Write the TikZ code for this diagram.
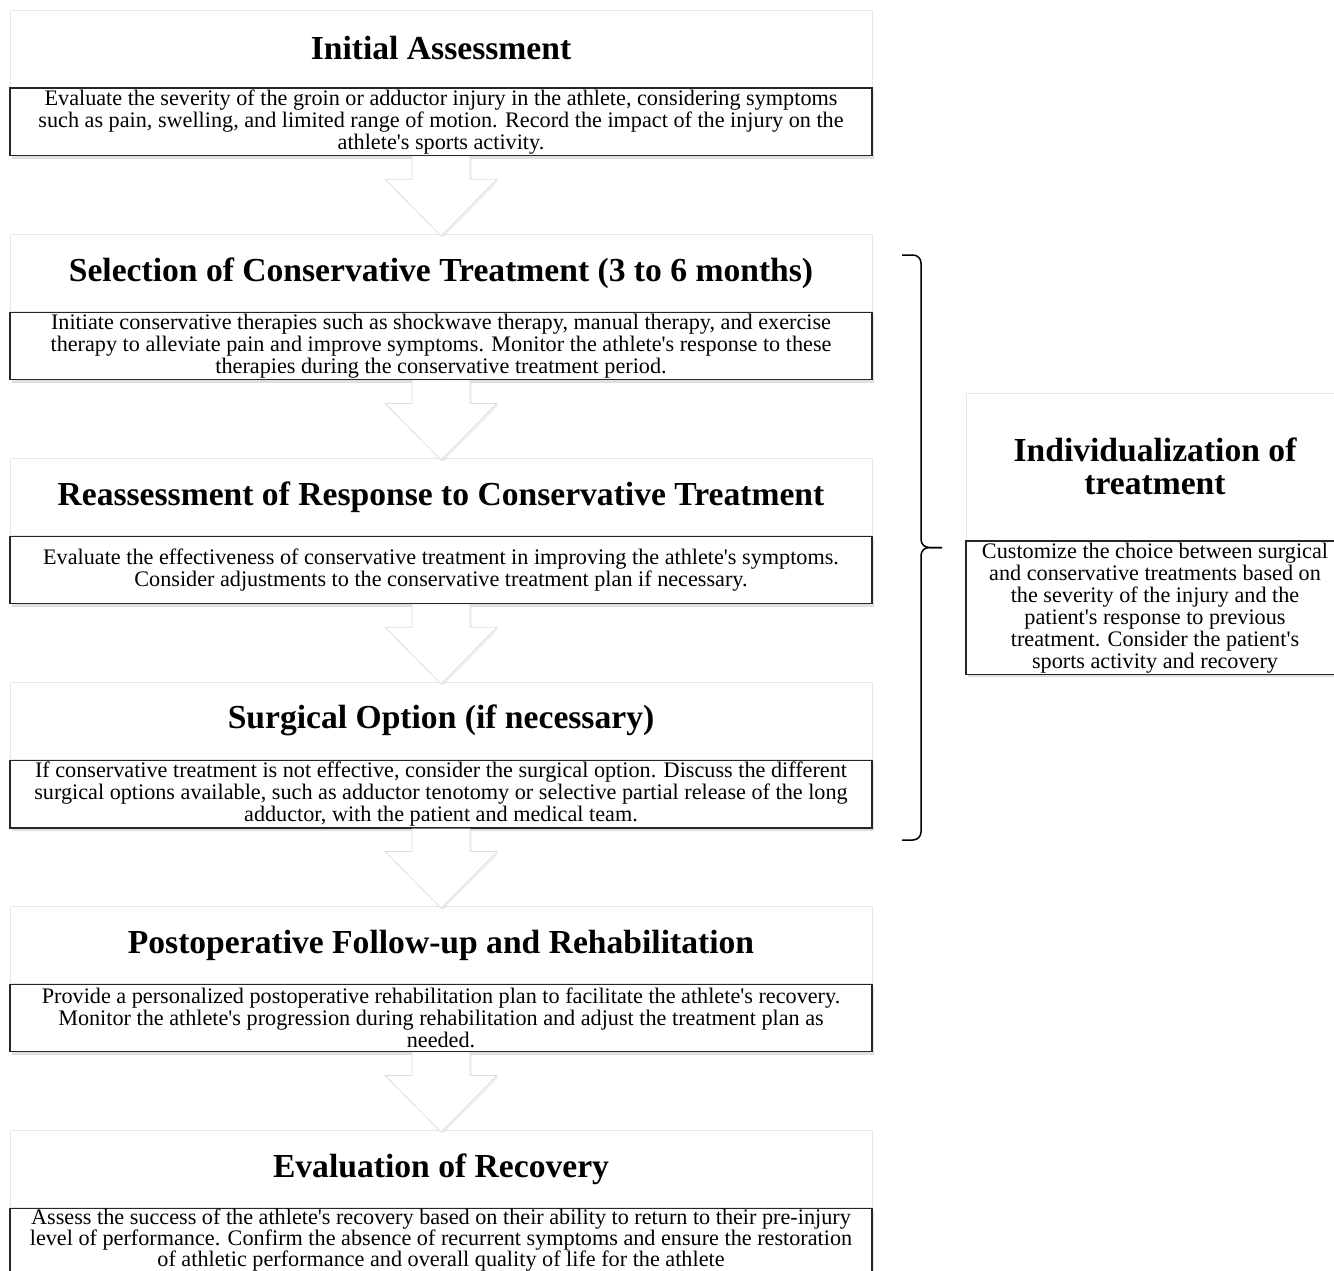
\documentclass[tikz,border=0pt]{standalone}
\usepackage{fontspec}
\setmainfont{Liberation Serif}[Ligatures=TeXOff]
\usetikzlibrary{positioning,shadows}

\begin{document}
\begin{tikzpicture}[
  x=0.5pt, y=-0.5pt,
  node distance=38.8pt,
  head/.style={draw=black!9, fill=white, align=center, inner sep=0pt, minimum width=431pt, minimum height=38.5pt, font=\bfseries\fontsize{16.8}{16.5}\selectfont},
  desc/.style={draw=black!85, line width=0.75pt, fill=white, align=center, inner xsep=2pt, inner ysep=0.75pt, minimum width=431pt, minimum height=33.5pt, font=\fontsize{11.1}{11}\selectfont, drop shadow={shadow xshift=1pt, shadow yshift=-1.5pt, opacity=0.25}},
  flow/.style={fill=white, draw=black!13, line width=0.4pt, drop shadow={shadow xshift=0.8pt, shadow yshift=-1pt, opacity=0.12}},
  bracket/.style={line width=0.75pt, rounded corners=4pt}
]
\useasboundingbox (0,0) rectangle (1334,1270);

% main column of steps
\node[head] (assess) at (441,48.5) {Initial Assessment};
\node[desc, below=0pt of assess] (assessbox) {Evaluate the severity of the groin or adductor injury in the athlete, considering symptoms\\such as pain, swelling, and limited range of motion. Record the impact of the injury on the\\athlete's sports activity.};
\node[head, below=of assessbox] (select) {Selection of Conservative Treatment (3 to 6 months)};
\node[desc, below=0pt of select] (selectbox) {Initiate conservative therapies such as shockwave therapy, manual therapy, and exercise\\therapy to alleviate pain and improve symptoms. Monitor the athlete's response to these\\therapies during the conservative treatment period.};
\node[head, below=of selectbox] (reassess) {Reassessment of Response to Conservative Treatment};
\node[desc, below=0pt of reassess] (reassessbox) {Evaluate the effectiveness of conservative treatment in improving the athlete's symptoms.\\Consider adjustments to the conservative treatment plan if necessary.};
\node[head, below=of reassessbox] (surgery) {Surgical Option (if necessary)};
\node[desc, below=0pt of surgery] (surgerybox) {If conservative treatment is not effective, consider the surgical option. Discuss the different\\surgical options available, such as adductor tenotomy or selective partial release of the long\\adductor, with the patient and medical team.};
\node[head, below=of surgerybox] (postop) {Postoperative Follow-up and Rehabilitation};
\node[desc, below=0pt of postop] (postopbox) {Provide a personalized postoperative rehabilitation plan to facilitate the athlete's recovery.\\Monitor the athlete's progression during rehabilitation and adjust the treatment plan as\\needed.};
\node[head, below=of postopbox] (recovery) {Evaluation of Recovery};
\node[desc, below=0pt of recovery, inner ysep=0.3pt, minimum height=31pt, font=\fontsize{11.1}{10.3}\selectfont] (recoverybox) {Assess the success of the athlete's recovery based on their ability to return to their pre-injury\\level of performance. Confirm the absence of recurrent symptoms and ensure the restoration\\of athletic performance and overall quality of life for the athlete};

% block arrows between the steps
\foreach \a/\b in {assessbox/select, selectbox/reassess, reassessbox/surgery, surgerybox/postop, postopbox/recovery}
  \draw[flow] ([xshift=-14.5pt]\a.south) -- ([xshift=-14.5pt,yshift=-11.5pt]\a.south)
    -- ([xshift=-28pt,yshift=-11.5pt]\a.south) -- ([yshift=-1pt]\b.north)
    -- ([xshift=28pt,yshift=-11.5pt]\a.south) -- ([xshift=14.5pt,yshift=-11.5pt]\a.south)
    -- ([xshift=14.5pt]\a.south);

% brace on the right
\coordinate (btop) at (902,255);
\coordinate (bbot) at (902,840);
\coordinate (btip) at (942,547.5);
\draw[bracket] (btop) -| ([xshift=-10.5pt]btip) -- (btip);
\draw[bracket] (bbot) -| ([xshift=-10.5pt]btip) -- (btip);

\node[head, minimum width=189pt, minimum height=73.5pt] (indiv) at (1155,466.5) {Individualization of\\treatment};
\node[desc, minimum width=189pt, below=0pt of indiv] (indivbox) {Customize the choice between surgical\\and conservative treatments based on\\the severity of the injury and the\\patient's response to previous\\treatment. Consider the patient's\\sports activity and recovery};
\end{tikzpicture}
\end{document}
